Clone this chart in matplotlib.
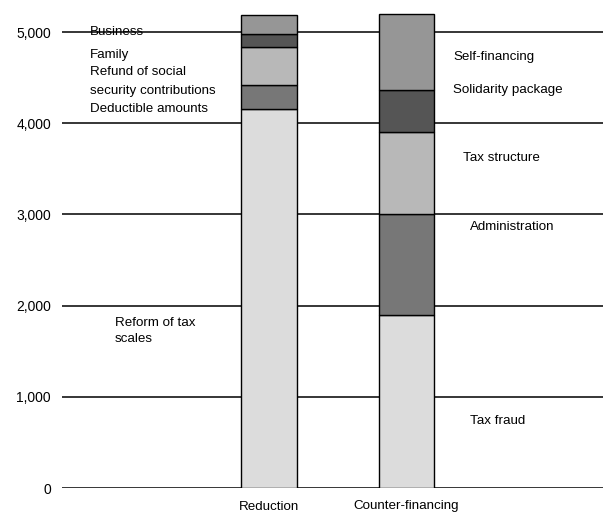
import numpy as np
import matplotlib.pyplot as plt

plt.rcParams['font.family'] = ['Liberation Sans', 'DejaVu Sans']

# Data
categories = ['Reduction', 'Counter-financing']
reduction = [4160, 260, 420, 140, 210]      # tax scales, deductible, refund, family, business
counter = [1900, 1100, 900, 460, 840]       # fraud, administration, structure, solidarity, self-financing
colors = ['#dcdcdc', '#777777', '#b8b8b8', '#555555', '#969696']

left_labels = ['Business', 'Family', 'Refund of social', 'security contributions',
               'Deductible amounts']
left_label_y = [5000, 4750, 4563, 4353, 4156]
right_labels = ['Self-financing', 'Solidarity package', 'Tax structure',
                'Administration', 'Tax fraud']
right_label_y = [4726, 4365, 3620, 2863, 735]
right_label_x = [1.34, 1.34, 1.41, 1.46, 1.46]

fig = plt.figure(figsize=(6.03, 5.15), dpi=100)
ax = fig.add_axes([62 / 603, 27 / 515, 541 / 603, 488 / 515])

# horizontal grid lines
for yv in range(0, 6000, 1000):
    ax.axhline(yv, color='black', lw=1.1, zorder=1)

# stacked bars
x = np.arange(len(categories))
stack = np.array([reduction, counter]).T
bottom = np.zeros(len(categories))
for vals, c in zip(stack, colors):
    ax.bar(x, vals, bottom=bottom, width=0.407, color=c, edgecolor='black',
           linewidth=1.0, zorder=2)
    bottom += vals

# segment labels
fs = 9.6
for txt, yv in zip(left_labels, left_label_y):
    ax.text(-1.30, yv, txt, fontsize=fs, va='center', ha='left', zorder=3)
ax.text(-1.12, 1720, 'Reform of tax\nscales', fontsize=fs, va='center', ha='left',
        linespacing=1.4)
for txt, xv, yv in zip(right_labels, right_label_x, right_label_y):
    ax.text(xv, yv, txt, fontsize=fs, va='center', ha='left')

ax.set_xlim(-1.505, 2.429)
ax.set_ylim(0, 5352)
ax.set_xticks(x)
ax.set_xticklabels(categories, fontsize=fs)
ax.set_yticks(range(0, 6000, 1000))
ax.set_yticklabels([f'{v:,}' for v in range(0, 6000, 1000)], fontsize=10)
ax.tick_params(axis='both', length=0)
ax.tick_params(axis='x', pad=9)
ax.tick_params(axis='y', pad=8)
for s in ax.spines.values():
    s.set_visible(False)

fig.savefig('out.png', dpi=100)
